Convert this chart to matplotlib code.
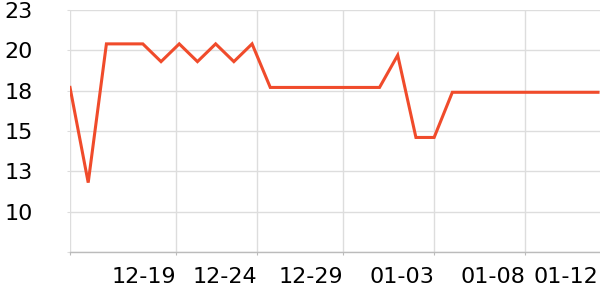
import matplotlib
matplotlib.use("Agg")
import matplotlib.pyplot as plt
import numpy as np

# daily values, 12-14 .. 01-12
days = ["12-14", "12-15", "12-16", "12-17", "12-18", "12-19", "12-20", "12-21",
        "12-22", "12-23", "12-24", "12-25", "12-26", "12-27", "12-28", "12-29",
        "12-30", "12-31", "01-01", "01-02", "01-03", "01-04", "01-05", "01-06",
        "01-07", "01-08", "01-09", "01-10", "01-11", "01-12"]
values = [17.7, 11.8, 20.4, 20.4, 20.4, 19.3, 20.4, 19.3, 20.4, 19.3,
          20.4, 17.7, 17.7, 17.7, 17.7, 17.7, 17.7, 17.7, 19.7, 14.6,
          14.6, 17.4, 17.4, 17.4, 17.4, 17.4, 17.4, 17.4, 17.4, 17.4]

xtick_pos = [0, 5.82, 10.28, 15, 20, 25]
xtick_labels = ["", "12-19", "12-24", "12-29", "01-03", "01-08"]
last_label = "01-12"

ytick_pos = [7.5, 10, 12.5, 15, 17.5, 20, 22.5]
ytick_labels = ["", "10", "13", "15", "18", "20", "23"]

x = np.arange(len(days))

fig = plt.figure(figsize=(6, 3), dpi=100)
ax = fig.add_axes([70/600, 48/300, 530/600, 242/300])

ax.plot(x, values, color="#F04B2B", lw=2.2, solid_joinstyle="miter", zorder=3)

ax.set_xlim(0, 29.11)
ax.set_ylim(7.5, 22.5)

ax.set_yticks(ytick_pos)
ax.set_yticklabels(ytick_labels)
ax.set_xticks(xtick_pos)
ax.set_xticklabels(xtick_labels, ha="right")
ax.set_xticks([len(days) - 1], minor=True)
ax.set_xticklabels([last_label], minor=True, ha="right")

ax.grid(True, which="major", color="#DDDDDD", lw=1)
ax.tick_params(axis="y", length=2, color="#DDDDDD", pad=25, labelsize=16)
ax.tick_params(axis="x", which="major", length=2, color="#BBBBBB", pad=9, labelsize=16)
ax.tick_params(axis="x", which="minor", length=0, pad=11, labelsize=16)

for s in ["top", "right", "left"]:
    ax.spines[s].set_visible(False)
ax.spines["bottom"].set_color("#BBBBBB")
ax.spines["bottom"].set_linewidth(1)
ax.set_axisbelow(True)

fig.savefig("out.png", dpi=100)
